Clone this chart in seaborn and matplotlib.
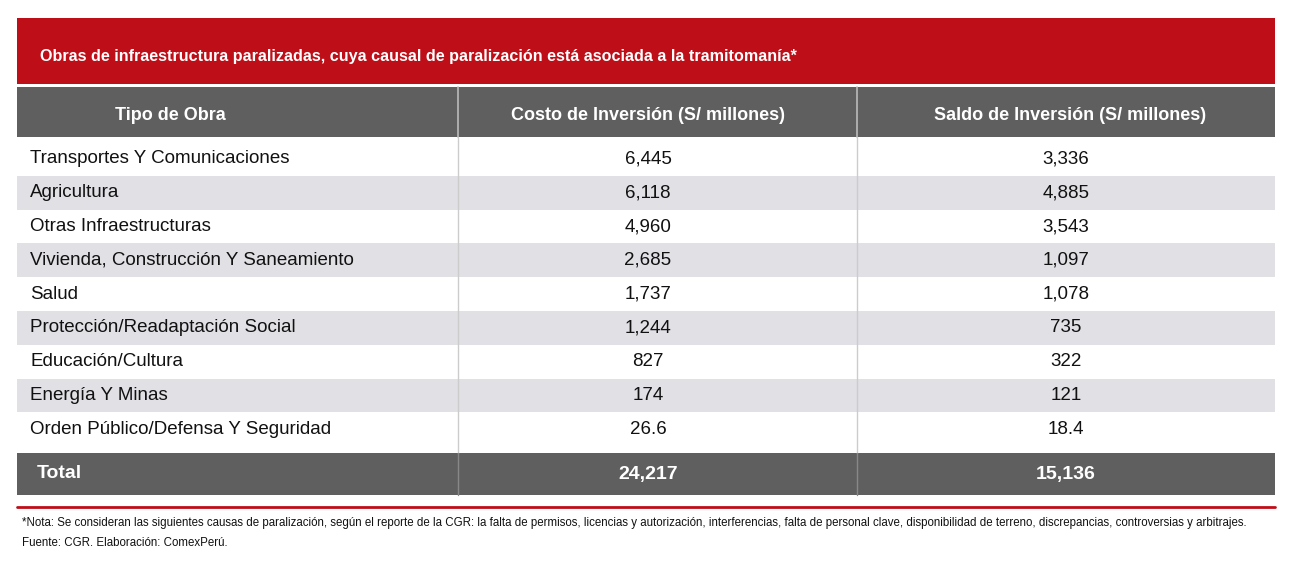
import matplotlib
matplotlib.use("Agg")
import matplotlib.pyplot as plt
import seaborn as sns
from matplotlib.patches import Rectangle

sns.set_theme(style="white")
plt.rcParams['font.family'] = ['Liberation Sans', 'DejaVu Sans']

title = "Obras de infraestructura paralizadas, cuya causal de paralización está asociada a la tramitomanía*"
headers = ["Tipo de Obra", "Costo de Inversión (S/ millones)", "Saldo de Inversión (S/ millones)"]
categories = ["Transportes Y Comunicaciones", "Agricultura", "Otras Infraestructuras",
              "Vivienda, Construcción Y Saneamiento", "Salud", "Protección/Readaptación Social",
              "Educación/Cultura", "Energía Y Minas", "Orden Público/Defensa Y Seguridad"]
costo = [6445, 6118, 4960, 2685, 1737, 1244, 827, 174, 26.6]
saldo = [3336, 4885, 3543, 1097, 1078, 735, 322, 121, 18.4]
total_costo = 24217
total_saldo = 15136
note1 = ("*Nota: Se consideran las siguientes causas de paralización, según el reporte de la CGR: la falta de permisos, "
         "licencias y autorización, interferencias, falta de personal clave, disponibilidad de terreno, discrepancias, "
         "controversias y arbitrajes.")
note2 = "Fuente: CGR. Elaboración: ComexPerú."

def fmt(v):
    return f"{v:.1f}" if v < 100 else f"{v:,.0f}"

W, H = 1297, 571
fig = plt.figure(figsize=(W / 100, H / 100), dpi=100)
ax = fig.add_axes([0, 0, 1, 1])
ax.set_xlim(0, W)
ax.set_ylim(H, 0)
ax.axis("off")

RED = "#BE0E18"
DARK = "#5F5F5F"
LIGHT = "#E0E0E5"
x0, x1 = 17, 1275
c1, c2 = 458, 857

ax.add_patch(Rectangle((x0, 18), x1 - x0, 66, color=RED, lw=0))
ax.text(40, 57, title, color="white", fontsize=11.6, fontweight="bold", va="center")
ax.add_patch(Rectangle((x0, 87), x1 - x0, 50, color=DARK, lw=0))
hx = [170, 648, 1070]
for x, h in zip(hx, headers):
    ax.text(x, 116, h, color="white", fontsize=13, fontweight="bold", va="center", ha="center")
for c in (c1, c2):
    ax.plot([c, c], [87, 137], color="#BBBBBB", lw=1.2)

top, rh = 142, 33.8
for i, (cat, a, b) in enumerate(zip(categories, costo, saldo)):
    y = top + i * rh
    if i % 2 == 1:
        ax.add_patch(Rectangle((x0, y), x1 - x0, rh, color=LIGHT, lw=0))
    yc = y + rh / 2
    ax.text(30, yc, cat, fontsize=13.5, va="center", color="#111111")
    ax.text(648, yc, fmt(a), fontsize=13.5, va="center", ha="center", color="#111111")
    ax.text(1066, yc, fmt(b), fontsize=13.5, va="center", ha="center", color="#111111")
for c in (c1, c2):
    ax.plot([c, c], [137, 453], color="#CCCCCC", lw=1)

ax.add_patch(Rectangle((x0, 453), x1 - x0, 42, color=DARK, lw=0))
ax.text(37, 474, "Total", color="white", fontsize=14, fontweight="bold", va="center")
ax.text(648, 474, fmt(total_costo), color="white", fontsize=14, fontweight="bold", va="center", ha="center")
ax.text(1066, 474, fmt(total_saldo), color="white", fontsize=14, fontweight="bold", va="center", ha="center")
for c in (c1, c2):
    ax.plot([c, c], [453, 495], color="#888888", lw=1)

ax.plot([x0, x1], [507, 507], color=RED, lw=2)
ax.text(22, 523, note1, fontsize=8.3, va="center", color="#111111")
ax.text(22, 543, note2, fontsize=8.3, va="center", color="#111111")

fig.savefig("out.png", dpi=100, facecolor="white")
